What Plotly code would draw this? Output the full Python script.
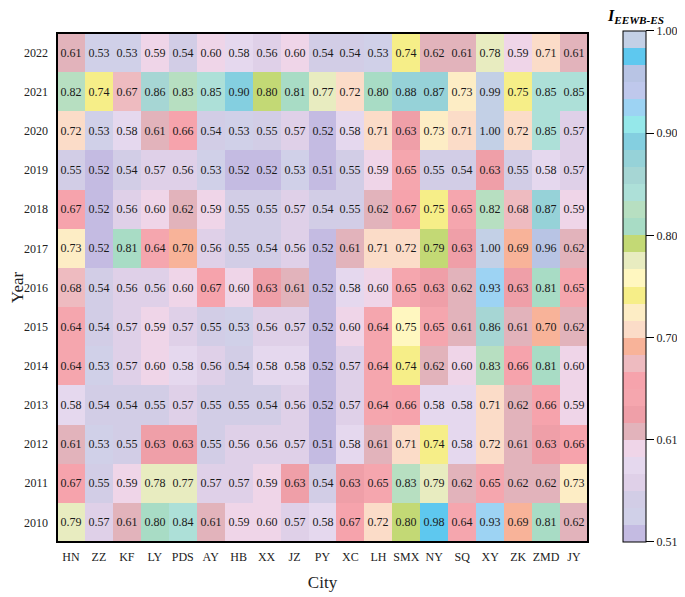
import numpy as np
import plotly.graph_objects as go

# ---------- datos ----------
ciudades = ["HN", "ZZ", "KF", "LY", "PDS", "AY", "HB", "XX", "JZ", "PY",
            "XC", "LH", "SMX", "NY", "SQ", "XY", "ZK", "ZMD", "JY"]
anios = ["2022", "2021", "2020", "2019", "2018", "2017", "2016",
         "2015", "2014", "2013", "2012", "2011", "2010"]

# valores leídos (3er decimal estimado por el color de la celda)
v2022 = [0.61, 0.53, 0.53, 0.59, 0.54, 0.60, 0.58, 0.56, 0.60, 0.54, 0.54, 0.53, 0.74, 0.62, 0.61, 0.78, 0.59, 0.71, 0.61]
v2021 = [0.82, 0.74, 0.672, 0.86, 0.83, 0.85, 0.90, 0.80, 0.81, 0.77, 0.72, 0.803, 0.88, 0.87, 0.73, 0.99, 0.75, 0.85, 0.85]
v2020 = [0.72, 0.53, 0.58, 0.61, 0.66, 0.54, 0.53, 0.55, 0.57, 0.52, 0.58, 0.71, 0.63, 0.73, 0.71, 1.00, 0.72, 0.85, 0.57]
v2019 = [0.55, 0.52, 0.54, 0.57, 0.56, 0.53, 0.52, 0.52, 0.53, 0.51, 0.55, 0.59, 0.65, 0.55, 0.54, 0.63, 0.55, 0.58, 0.57]
v2018 = [0.67, 0.52, 0.56, 0.60, 0.62, 0.59, 0.55, 0.55, 0.57, 0.54, 0.55, 0.62, 0.67, 0.75, 0.65, 0.82, 0.68, 0.87, 0.59]
v2017 = [0.73, 0.52, 0.81, 0.64, 0.70, 0.56, 0.55, 0.54, 0.56, 0.52, 0.61, 0.71, 0.72, 0.79, 0.63, 1.00, 0.69, 0.96, 0.62]
v2016 = [0.68, 0.54, 0.56, 0.56, 0.60, 0.67, 0.60, 0.63, 0.61, 0.52, 0.58, 0.60, 0.65, 0.63, 0.62, 0.93, 0.63, 0.81, 0.65]
v2015 = [0.64, 0.54, 0.57, 0.59, 0.57, 0.55, 0.53, 0.56, 0.57, 0.52, 0.60, 0.64, 0.754, 0.65, 0.61, 0.86, 0.61, 0.70, 0.62]
v2014 = [0.64, 0.53, 0.57, 0.60, 0.58, 0.56, 0.54, 0.58, 0.58, 0.52, 0.57, 0.64, 0.74, 0.62, 0.60, 0.83, 0.66, 0.81, 0.60]
v2013 = [0.58, 0.54, 0.54, 0.55, 0.57, 0.55, 0.55, 0.54, 0.56, 0.52, 0.57, 0.64, 0.66, 0.58, 0.58, 0.71, 0.62, 0.66, 0.59]
v2012 = [0.61, 0.53, 0.55, 0.63, 0.63, 0.55, 0.56, 0.56, 0.57, 0.51, 0.58, 0.61, 0.71, 0.74, 0.58, 0.72, 0.61, 0.63, 0.66]
v2011 = [0.67, 0.55, 0.59, 0.78, 0.772, 0.57, 0.57, 0.59, 0.63, 0.54, 0.63, 0.65, 0.83, 0.786, 0.62, 0.65, 0.62, 0.62, 0.73]
v2010 = [0.786, 0.57, 0.61, 0.803, 0.84, 0.61, 0.59, 0.60, 0.57, 0.58, 0.67, 0.72, 0.80, 0.98, 0.64, 0.93, 0.69, 0.81, 0.62]

# colores de la barra (de abajo hacia arriba)
colores = ["#c4bbe2", "#d0d0e8", "#d2cde6", "#dfd0e8", "#e5d8ee", "#efd5e8",
           "#e2b3bb", "#ef9fa8", "#f5a6ae", "#f6a3ac", "#eebbc0", "#f8b399",
           "#fbdcc8", "#fdedc5", "#f6ee88", "#fff7c0", "#e8ecc0", "#c3d975",
           "#a8dcc5", "#b7dfc1", "#ade0d8", "#a6d6d4", "#96d2d8", "#84cfe0",
           "#95e8ea", "#9dd3f3", "#bfc8ec", "#b8c4e4", "#5ec8ef", "#c3d0e6"]

vmin, vmax = 0.507, 1.0

z = np.array([v2022, v2021, v2020, v2019, v2018, v2017, v2016,
              v2015, v2014, v2013, v2012, v2011, v2010])

# escala escalonada
n = len(colores)
escala = []
for i, c in enumerate(colores):
    escala.append([i / n, c])
    escala.append([(i + 1) / n, c])

ticks_cb = np.linspace(vmin, vmax, 6)

fuente = "Liberation Serif"

fig = go.Figure(go.Heatmap(
    z=z, x=ciudades, y=anios,
    zmin=vmin, zmax=vmax,
    colorscale=escala,
    texttemplate="%{z:.2f}",
    textfont=dict(family=fuente, size=12, color="#1a1a1a"),
    colorbar=dict(
        x=1.066, xanchor="left", xpad=0, ypad=0,
        y=0.502, yanchor="middle", len=1.004, lenmode="fraction",
        thickness=23, outlinewidth=1, outlinecolor="black",
        tickvals=ticks_cb, ticktext=[f"{t:.2f}" for t in ticks_cb],
        ticks="outside", ticklen=8, tickwidth=1, tickcolor="black",
        tickfont=dict(family=fuente, size=12, color="#222"),
    ),
))

# la página pone 8px de margen al body: se descuenta aquí
fig.update_layout(
    width=677, height=589,
    margin=dict(l=49, r=97, t=25, b=55, autoexpand=False),
    plot_bgcolor="white", paper_bgcolor="white",
    font=dict(family=fuente, color="#222"),
)
fig.update_xaxes(
    title=dict(text="City", font=dict(family=fuente, size=17), standoff=13),
    tickfont=dict(family=fuente, size=12), ticks="", ticklabelstandoff=6,
    showline=False, automargin=False,
)
fig.update_yaxes(
    title=dict(text="Year", font=dict(family=fuente, size=17), standoff=4),
    tickfont=dict(family=fuente, size=12), ticks="", ticklabelstandoff=8,
    autorange="reversed", showline=False, automargin=False,
)
fig.add_shape(type="rect", xref="paper", yref="paper", x0=0, y0=0, x1=1, y1=1,
              line=dict(color="black", width=2))

# título de la barra de color
fig.add_annotation(
    text="<b><i>I<sub>EEWB-ES</sub></i></b>",
    xref="paper", yref="paper", x=1.09, y=1.033,
    xanchor="center", yanchor="middle", showarrow=False,
    font=dict(family=fuente, size=16, color="black"),
)

fig.write_html("out.html")
